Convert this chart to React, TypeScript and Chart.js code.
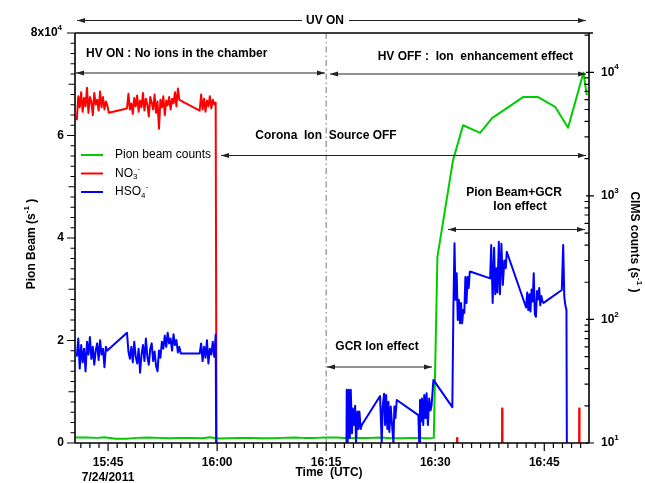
import React, { useEffect, useRef } from 'react';
import { Chart, registerables } from 'chart.js';

Chart.register(...registerables);

// ---------------- data ----------------
// Time values are minutes after 15:00 UTC on 7/24/2011
const X_MIN = 40.45;
const X_MAX = 111.15;
const X_TICK_VALUES = [45, 60, 75, 90, 105];
const X_TICK_LABELS = ['15:45', '16:00', '16:15', '16:30', '16:45'];
const X_MINOR_STEP = 1.25;
const DATE_LABEL = '7/24/2011';

const LEFT_MAX = 80000;
const LEFT_TICK_VALUES = [0, 20000, 40000, 60000, 80000];
const LEFT_TICK_LABELS = ['0', '2', '4', '6', '8x10'];
const LEFT_TICK_EXP = ['', '', '', '', '4'];
const LEFT_MID_STEP = 10000;
const LEFT_MINOR_STEP = 2000;

const RIGHT_MIN = 10;
const RIGHT_MAX = 20800;
const RIGHT_TICK_VALUES = [10, 100, 1000, 10000];
const RIGHT_TICK_EXP = ['1', '2', '3', '4'];

const CORONA_OFF_TIME = 75; // 16:15 dash-dot marker

// CIMS sampling interval (minutes)
const SAMPLE_STEP = 0.2;

// Pion beam counts (left axis)
const PION_TIME = [40.5, 42, 43.5, 44.5, 46, 47.5, 49, 50.5, 52, 53.5, 55, 56.5, 58, 59, 60, 61.5, 63, 64.5, 66, 67.5, 69, 70.5, 72, 73.5, 75, 76.5, 78, 79.5, 81, 82.5, 84, 85.5, 87, 88.5, 89.8,
  90.3, 92.45, 93.83, 96.17, 97.82, 102.08, 104.15, 106.49, 108.27, 110.38, 110.85];
const PION_COUNTS = [1050, 1050, 1000, 1100, 850, 850, 1000, 1050, 1000, 950, 1000, 1000, 950, 1100, 900, 950, 1000, 1000, 950, 950, 1000, 1050, 1000, 1000, 1050, 1050, 950, 1000, 1000, 1050, 950, 950, 1000, 950, 1000,
  36300, 55200, 62000, 60500, 63400, 67500, 67500, 65600, 61500, 72250, 67900];

// NO3- CIMS counts (right axis)
const NO3_SEG1_START = 40.7;
const NO3_SEG1 = [4100, 6400, 5200, 6900, 4800, 6200, 5300, 7500, 4700, 6300, 5800, 4500, 6800, 5500, 6000, 4900, 7000, 5200, 6300, 5000, 5800, 5400, 4700];
const NO3_SEG2_START = 47.6;
const NO3_SEG2 = [5100, 6700, 5000, 5600, 4600, 6200, 5300, 6500, 4800, 5900, 5200, 6800, 4900, 6100, 5500, 4400, 6300, 5700, 5000, 6600, 4700, 5800, 3500, 6000, 5200, 6400, 4500, 5900, 5400, 6300, 5000, 6100, 5600, 6900, 5300, 7400, 6000, 5900];
const NO3_SEG3_START = 57.6;
const NO3_SEG3 = [4900, 6600, 5000, 6100, 4800, 5900, 5300, 6400, 5100, 6000, 5500, 5700];
const NO3_TAIL_TIME = [59.95, 92.95, 93.0, 93.05, 99.15, 99.2, 99.25, 109.75, 109.8, 109.85, 111.2];
const NO3_TAIL = [1, 1, 11, 1, 1, 19, 1, 1, 19, 1, 1];

// HSO4- CIMS counts (right axis)
const HSO4_SEG1_START = 40.7;
const HSO4_SEG1 = [50, 70, 40, 62, 45, 58, 38, 66, 52, 72, 48, 60, 43, 56, 64, 47, 68, 52, 58, 41, 60, 56];
const HSO4_SEG2_START = 47.6;
const HSO4_SEG2 = [78, 55, 48, 60, 45, 66, 50, 44, 58, 37, 52, 62, 46, 70, 50, 43, 58, 64, 46, 55, 42, 38, 56, 49, 66, 58, 74, 60, 78, 64, 70, 56, 76, 62, 68, 54, 60, 53];
const HSO4_SEG3_START = 57.6;
const HSO4_SEG3 = [53, 64, 46, 60, 49, 68, 44, 58, 52, 66, 50, 75];
const HSO4_LATE_TIME = [59.95,
  77.7, 77.83, 77.95, 78.1, 78.25, 78.38, 78.55, 78.66, 78.8, 78.98, 79.11, 79.3, 79.43, 79.57, 79.75, 79.9,
  82.41, 82.64, 82.78, 82.96, 83.1, 83.24, 83.42, 83.56, 83.69, 83.88, 84.06, 84.25, 84.38, 84.52, 84.71,
  87.68, 87.8, 87.9, 88.03, 88.17, 88.35, 88.49, 88.67, 88.81, 88.99, 89.17, 89.36, 89.5,
  89.75, 92.35,
  92.5, 92.65, 92.8, 92.95, 93.1, 93.25, 93.4, 93.55, 93.7, 93.85, 94.0, 94.15, 94.3, 94.45, 94.6, 94.75, 94.9,
  97.55, 97.7, 97.9, 98.1, 98.25, 98.4, 98.55, 98.75, 98.9, 99.1, 99.3, 99.5, 99.7, 99.84,
  102.5, 102.65, 102.8, 102.95, 103.1, 103.25, 103.4, 103.55, 103.7, 103.85, 104.0, 104.15, 104.3, 104.45, 104.6, 104.75, 104.9,
  107.41, 107.6, 107.75, 107.9, 108.05, 108.15, 111.2];
const HSO4_LATE = [1,
  1, 27, 10, 27, 11, 27, 12, 19, 14, 20, 10, 18, 13, 18, 13, 14,
  24, 10, 20, 25, 14, 24.5, 13, 21.6, 12.3, 19.7, 14, 10, 19.7, 15.9, 22.3,
  16.8, 10, 22.3, 14.9, 22.9, 14, 24.5, 15.9, 25.3, 14, 22.9, 18.4, 20.3,
  32.4, 19.5,
  127, 413, 144, 237, 99, 144, 93, 136, 93, 119, 113, 221, 136, 221, 180, 243, 243,
  215, 400, 136, 380, 160, 260, 165, 425, 160, 410, 190, 300, 260, 353,
  125, 165, 119, 160, 116, 175, 140, 237, 110, 105, 170, 145, 180, 130, 155, 140, 136,
  173, 400, 153, 130, 119, 1, 1];

const SERIES_NAMES = ['Pion beam counts', 'NO3-', 'HSO4-'];
const SERIES_COLORS = ['#00cc00', '#ff0000', '#0000ff'];

// ---------------- helpers ----------------
const FONT = '"Liberation Sans", Arial, Helvetica, sans-serif';

function pts(times: number[], values: number[]) {
  return times.map((t, i) => ({ x: t, y: values[i] }));
}
function sampled(start: number, values: number[]) {
  return values.map((v, i) => ({ x: start + i * SAMPLE_STEP, y: v }));
}

type Part = { t: string; s?: 'sup' | 'sub' };

function drawRich(ctx: CanvasRenderingContext2D, parts: Part[], x: number, y: number, align: 'left' | 'center' | 'right', size = 12, weight = 'bold') {
  const base = `${weight} ${size}px ${FONT}`;
  const small = `${weight} ${Math.round(size * 0.7)}px ${FONT}`;
  let w = 0;
  for (const p of parts) {
    ctx.font = p.s ? small : base;
    w += ctx.measureText(p.t).width;
  }
  let cx = align === 'left' ? x : align === 'center' ? x - w / 2 : x - w;
  ctx.textAlign = 'left';
  ctx.textBaseline = 'middle';
  for (const p of parts) {
    ctx.font = p.s ? small : base;
    const dy = p.s === 'sup' ? -size * 0.42 : p.s === 'sub' ? size * 0.3 : 0;
    ctx.fillText(p.t, cx, y + dy);
    cx += ctx.measureText(p.t).width;
  }
}

function arrowHead(ctx: CanvasRenderingContext2D, x: number, y: number, dir: number) {
  ctx.beginPath();
  ctx.moveTo(x, y);
  ctx.lineTo(x - dir * 8, y - 2.6);
  ctx.lineTo(x - dir * 8, y + 2.6);
  ctx.closePath();
  ctx.fill();
}

function hArrow(ctx: CanvasRenderingContext2D, x1: number, x2: number, y: number, headL: boolean, headR: boolean) {
  ctx.beginPath();
  ctx.moveTo(x1, y);
  ctx.lineTo(x2, y);
  ctx.stroke();
  if (headL) arrowHead(ctx, x1, y, -1);
  if (headR) arrowHead(ctx, x2, y, 1);
}

const overlayPlugin = {
  id: 'overlay',
  beforeDatasetsDraw(chart: any) {
    const ctx: CanvasRenderingContext2D = chart.ctx;
    const { top, bottom } = chart.chartArea;
    const xp = chart.scales.x.getPixelForValue(CORONA_OFF_TIME);
    ctx.save();
    ctx.strokeStyle = '#8a8a8a';
    ctx.lineWidth = 1.2;
    ctx.setLineDash([6, 3, 1.5, 3]);
    ctx.beginPath();
    ctx.moveTo(xp, top);
    ctx.lineTo(xp, bottom);
    ctx.stroke();
    ctx.restore();
  },
  afterDatasetsDraw(chart: any) {
    const ctx: CanvasRenderingContext2D = chart.ctx;
    const { left, right, top, bottom } = chart.chartArea;
    const xs = chart.scales.x;
    const yl = chart.scales.yL;
    const yr = chart.scales.yR;
    ctx.save();
    ctx.strokeStyle = '#000';
    ctx.fillStyle = '#000';
    ctx.setLineDash([]);

    // frame
    ctx.lineWidth = 1.6;
    ctx.beginPath();
    ctx.moveTo(left, top); ctx.lineTo(right + 4, top);
    ctx.moveTo(left, top); ctx.lineTo(left, bottom);
    ctx.moveTo(left, bottom); ctx.lineTo(right, bottom);
    ctx.moveTo(right, top); ctx.lineTo(right, bottom);
    ctx.stroke();

    // left ticks
    ctx.lineWidth = 1.2;
    ctx.beginPath();
    for (let v = 0; v <= LEFT_MAX + 1; v += LEFT_MINOR_STEP) {
      const y = yl.getPixelForValue(v);
      const major = LEFT_TICK_VALUES.some((t) => Math.abs(t - v) < 1);
      const mid = Math.abs(v / LEFT_MID_STEP - Math.round(v / LEFT_MID_STEP)) < 1e-6;
      const len = major ? 8 : mid ? 6.5 : 4.5;
      ctx.moveTo(left - len, y); ctx.lineTo(left, y);
    }
    ctx.stroke();
    LEFT_TICK_VALUES.forEach((v, i) => {
      const y = yl.getPixelForValue(v);
      const parts: Part[] = [{ t: LEFT_TICK_LABELS[i] }];
      if (LEFT_TICK_EXP[i]) parts.push({ t: LEFT_TICK_EXP[i], s: 'sup' });
      drawRich(ctx, parts, left - (LEFT_TICK_EXP[i] ? 13 : 11), y, 'right', 12);
    });

    // right ticks (log)
    ctx.beginPath();
    for (let d = 10; d <= RIGHT_MAX; d *= 10) {
      for (let m = 1; m <= 9; m++) {
        const v = d * m;
        if (v < RIGHT_MIN || v > RIGHT_MAX) continue;
        const y = yr.getPixelForValue(v);
        if (m === 1) { ctx.moveTo(right - 3, y); ctx.lineTo(right + 5, y); }
        else { ctx.moveTo(right - 4.5, y); ctx.lineTo(right, y); }
      }
    }
    ctx.stroke();
    RIGHT_TICK_VALUES.forEach((v, i) => {
      const y = yr.getPixelForValue(v);
      drawRich(ctx, [{ t: '10' }, { t: RIGHT_TICK_EXP[i], s: 'sup' }], right + 12, y, 'left', 12);
    });

    // bottom ticks
    ctx.beginPath();
    const start = Math.ceil(X_MIN / X_MINOR_STEP) * X_MINOR_STEP;
    for (let t = start; t <= X_MAX; t += X_MINOR_STEP) {
      const x = xs.getPixelForValue(t);
      const major = X_TICK_VALUES.some((v) => Math.abs(v - t) < 1e-6);
      ctx.moveTo(x, bottom); ctx.lineTo(x, bottom + (major ? 8 : 5));
    }
    ctx.stroke();
    X_TICK_VALUES.forEach((v, i) => {
      drawRich(ctx, [{ t: X_TICK_LABELS[i] }], xs.getPixelForValue(v), 462.5, 'center', 12);
    });
    drawRich(ctx, [{ t: DATE_LABEL }], xs.getPixelForValue(X_TICK_VALUES[0]), 477.5, 'center', 12);
    drawRich(ctx, [{ t: 'Time  (UTC)' }], 329, 473, 'center', 12);

    // axis titles
    ctx.save();
    ctx.translate(32, 244);
    ctx.rotate(-Math.PI / 2);
    drawRich(ctx, [{ t: 'Pion Beam (s' }, { t: '-1', s: 'sup' }, { t: ' )' }], 0, 0, 'center', 12);
    ctx.restore();
    ctx.save();
    ctx.translate(634, 242);
    ctx.rotate(Math.PI / 2);
    drawRich(ctx, [{ t: 'CIMS counts (s' }, { t: '-1', s: 'sup' }, { t: ' )' }], 0, 0, 'center', 12);
    ctx.restore();

    // annotations
    ctx.strokeStyle = '#222';
    ctx.fillStyle = '#222';
    ctx.lineWidth = 1;
    hArrow(ctx, 77, 302, 20.5, true, false);
    hArrow(ctx, 349, 586, 20.5, false, true);
    hArrow(ctx, 76, 325, 73, true, true);
    hArrow(ctx, 330, 586, 74, true, true);
    hArrow(ctx, 221, 586, 155.5, true, true);
    hArrow(ctx, 448, 585, 229.5, true, true);
    hArrow(ctx, 327, 432, 367, true, true);

    ctx.fillStyle = '#000';
    drawRich(ctx, [{ t: 'UV ON' }], 325, 21, 'center', 12);
    drawRich(ctx, [{ t: 'HV ON : No ions in the chamber' }], 86, 54, 'left', 12);
    drawRich(ctx, [{ t: 'HV OFF :  Ion  enhancement effect' }], 573, 57, 'right', 12);
    drawRich(ctx, [{ t: 'Corona  Ion  Source OFF' }], 326, 136, 'center', 12);
    drawRich(ctx, [{ t: 'Pion Beam+GCR' }], 514, 193, 'center', 12);
    drawRich(ctx, [{ t: 'Ion effect' }], 520, 207, 'center', 12);
    drawRich(ctx, [{ t: 'GCR Ion effect' }], 377, 347, 'center', 12);

    // legend
    const legendY = [155, 173.5, 192];
    const legendParts: Part[][] = [
      [{ t: SERIES_NAMES[0] }],
      [{ t: 'NO' }, { t: '3', s: 'sub' }, { t: '-', s: 'sup' }],
      [{ t: 'HSO' }, { t: '4', s: 'sub' }, { t: '-', s: 'sup' }],
    ];
    legendY.forEach((y, i) => {
      ctx.strokeStyle = SERIES_COLORS[i];
      ctx.lineWidth = 2;
      ctx.beginPath();
      ctx.moveTo(81, y); ctx.lineTo(103, y);
      ctx.stroke();
      ctx.fillStyle = '#000';
      drawRich(ctx, legendParts[i], 115, y, 'left', 12, 'normal');
    });

    ctx.restore();
  },
};

export default function App() {
  const ref = useRef<HTMLCanvasElement>(null);
  useEffect(() => {
    const common = { pointRadius: 0, borderWidth: 2, tension: 0, fill: false, borderJoinStyle: 'round' as const };
    const chart = new Chart(ref.current as HTMLCanvasElement, {
      type: 'line',
      data: {
        datasets: [
          { ...common, label: SERIES_NAMES[0], data: pts(PION_TIME, PION_COUNTS), borderColor: SERIES_COLORS[0], yAxisID: 'yL', order: 3 },
          {
            ...common, label: SERIES_NAMES[1], borderColor: SERIES_COLORS[1], yAxisID: 'yR', order: 2,
            data: [...sampled(NO3_SEG1_START, NO3_SEG1), ...sampled(NO3_SEG2_START, NO3_SEG2), ...sampled(NO3_SEG3_START, NO3_SEG3), ...pts(NO3_TAIL_TIME, NO3_TAIL)],
          },
          {
            ...common, label: SERIES_NAMES[2], borderColor: SERIES_COLORS[2], yAxisID: 'yR', order: 1,
            data: [...sampled(HSO4_SEG1_START, HSO4_SEG1), ...sampled(HSO4_SEG2_START, HSO4_SEG2), ...sampled(HSO4_SEG3_START, HSO4_SEG3), ...pts(HSO4_LATE_TIME, HSO4_LATE)],
          },
        ] as any,
      },
      options: {
        responsive: false,
        animation: false,
        devicePixelRatio: 1,
        events: [],
        layout: { padding: { left: 75, right: 56, top: 33, bottom: 40 } },
        plugins: { legend: { display: false }, tooltip: { enabled: false } },
        scales: {
          x: { type: 'linear', min: X_MIN, max: X_MAX, display: false },
          yL: { type: 'linear', position: 'left', min: 0, max: LEFT_MAX, display: false },
          yR: { type: 'logarithmic', position: 'right', min: RIGHT_MIN, max: RIGHT_MAX, display: false },
        },
      } as any,
      plugins: [overlayPlugin],
    });
    return () => chart.destroy();
  }, []);
  return (
    <div style={{ position: 'fixed', left: 0, top: 0, width: 645, height: 483, background: '#fff' }}>
      <canvas ref={ref} width={645} height={483} style={{ display: 'block' }} />
    </div>
  );
}
